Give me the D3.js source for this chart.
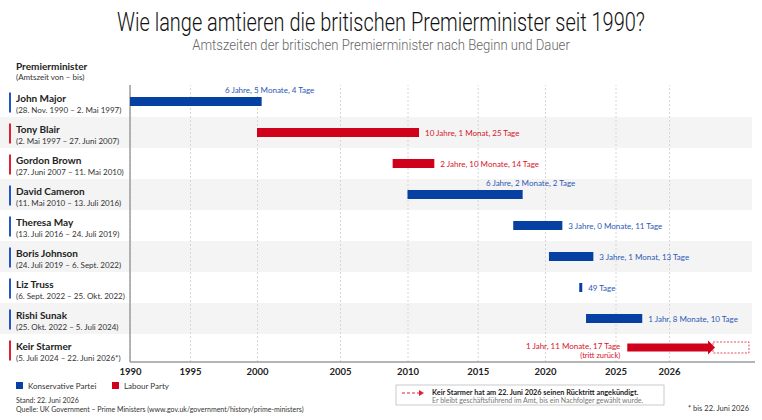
<!DOCTYPE html>
<html>
<head>
<meta charset="utf-8">
<script src="https://cdn.jsdelivr.net/npm/d3@7"></script>
<style>
  body { margin: 0; background: #fff; }
  svg { font-family: Lato, "Open Sans", sans-serif; }
</style>
</head>
<body>
<svg id="chart" width="762" height="420"></svg>
<script>
// values (start / end on the chart's own year axis)
const names = ["John Major", "Tony Blair", "Gordon Brown", "David Cameron", "Theresa May",
  "Boris Johnson", "Liz Truss", "Rishi Sunak", "Keir Starmer"]
const terms = ["(28. Nov. 1990 – 2. Mai 1997)", "(2. Mai 1997 – 27. Juni 2007)",
  "(27. Juni 2007 – 11. Mai 2010)", "(11. Mai 2010 – 13. Juli 2016)",
  "(13. Juli 2016 – 24. Juli 2019)", "(24. Juli 2019 – 6. Sept. 2022)",
  "(6. Sept. 2022 – 25. Okt. 2022)", "(25. Okt. 2022 – 5. Juli 2024)",
  "(5. Juli 2024 – 22. Juni 2026*)"]
const parties = ["Konservative Partei", "Labour Party", "Labour Party", "Konservative Partei",
  "Konservative Partei", "Konservative Partei", "Konservative Partei", "Konservative Partei", "Labour Party"]
const starts = [1990.0, 2000.0, 2008.9, 2010.0, 2017.64, 2020.28, 2022.43, 2022.91, 2025.22]
const ends = [2000.28, 2010.82, 2011.91, 2018.34, 2021.23, 2023.43, 2022.64, 2025.5, 2027.07]
const durations = ["6 Jahre, 5 Monate, 4 Tage", "10 Jahre, 1 Monat, 25 Tage", "2 Jahre, 10 Monate, 14 Tage",
  "6 Jahre, 2 Monate, 2 Tage", "3 Jahre, 0 Monate, 11 Tage", "3 Jahre, 1 Monat, 13 Tage",
  "49 Tage", "1 Jahr, 8 Monate, 10 Tage", "1 Jahr, 11 Monate, 17 Tage"]
const projectedEnd = 2027.86
const tickYears = [1990, 1995, 2000, 2005, 2010, 2015, 2020, 2025, 2026]
const legendItems = ["Konservative Partei", "Labour Party"]

let svg = d3.select("#chart")
let W = +svg.attr("width")

let plotTop = 85, plotBottom = 362

// the axis of the original is not evenly spaced, so a piecewise scale
let x = d3.scaleLinear()
  .domain([1990, 1995, 2000, 2005, 2010, 2015, 2020, 2025, 2026, 2028])
  .range([130, 190, 257, 340, 407.5, 477.7, 545, 615.5, 669, 755])

let y = d3.scaleBand().domain(names).range([86, 365])

let barColor = d3.scaleOrdinal().domain(legendItems).range(["#0640a3", "#d0021b"])
let markColor = d3.scaleOrdinal().domain(legendItems).range(["#2456c6", "#e0202f"])
let textColor = d3.scaleOrdinal().domain(legendItems).range(["#2b58b5", "#d7132a"])

let rows = names.map((n, i) => ({
  name: n, term: terms[i], party: parties[i], start: starts[i], end: ends[i], dur: durations[i], i: i
}))

// title: the original uses a condensed face, so squeeze horizontally
const squeeze = (sel, width) => {
  let w = sel.node().getComputedTextLength()
  sel.attr("transform", "translate(" + W / 2 + "," + sel.attr("data-y") + ") scale(" + (width / w) + ",1)")
}

svg.append("text")
  .attr("data-y", 31)
  .attr("text-anchor", "middle")
  .attr("font-family", "Roboto, sans-serif")
  .attr("font-weight", 300)
  .attr("font-size", 26)
  .attr("fill", "#111")
  .text("Wie lange amtieren die britischen Premierminister seit 1990?")
  .call(squeeze, 528)

svg.append("text")
  .attr("data-y", 50)
  .attr("text-anchor", "middle")
  .attr("font-family", "Roboto, sans-serif")
  .attr("font-weight", 300)
  .attr("font-size", 14)
  .attr("fill", "#666")
  .text("Amtszeiten der britischen Premierminister nach Beginn und Dauer")
  .call(squeeze, 378)

// striped rows
svg.selectAll(".stripe")
  .data(rows.filter(d => d.i % 2 == 1))
  .enter().append("rect")
  .attr("class", "stripe")
  .attr("x", 0).attr("width", 752)
  .attr("y", d => y(d.name))
  .attr("height", y.bandwidth())
  .attr("fill", "#f4f4f4")

// grid
svg.append("g")
  .attr("transform", "translate(0," + plotBottom + ")")
  .call(d3.axisBottom(x).tickValues(tickYears).tickSize(-(plotBottom - plotTop)).tickFormat(""))
  .call(g => g.select(".domain").remove())
  .call(g => g.selectAll("line").attr("stroke", "#d6d6d6").attr("stroke-dasharray", "2,2"))

// axis lines
svg.append("line").attr("x1", x(1990)).attr("x2", x(1990)).attr("y1", plotTop).attr("y2", plotBottom)
  .attr("stroke", "#9c9c9c").attr("stroke-width", 1.5)
svg.append("line").attr("x1", x(1990)).attr("x2", x(2028)).attr("y1", plotBottom).attr("y2", plotBottom)
  .attr("stroke", "#9c9c9c").attr("stroke-width", 1.5)

svg.append("g")
  .attr("transform", "translate(0," + plotBottom + ")")
  .call(d3.axisBottom(x).tickValues(tickYears).tickSize(0).tickPadding(6).tickFormat(d3.format("d")))
  .call(g => g.select(".domain").remove())
  .call(g => g.selectAll("text")
    .attr("font-family", "Lato, sans-serif")
    .attr("font-weight", "bold")
    .attr("font-size", 9.5)
    .attr("fill", "#222"))

// left labels
svg.append("text").attr("x", 16).attr("y", 70)
  .attr("font-weight", "bold").attr("font-size", 10).attr("fill", "#222")
  .text("Premierminister")
svg.append("text").attr("x", 16).attr("y", 80)
  .attr("font-size", 8).attr("fill", "#333")
  .text("(Amtszeit von – bis)")

let lab = svg.append("g")
let cy = d => y(d.name) + y.bandwidth() / 2

lab.selectAll(".mark").data(rows).enter().append("rect")
  .attr("x", 9).attr("width", 2)
  .attr("y", d => cy(d) - 9).attr("height", 20)
  .attr("fill", d => markColor(d.party))

lab.selectAll(".nm").data(rows).enter().append("text")
  .attr("x", 16).attr("y", d => cy(d) + 0.5)
  .attr("font-weight", "bold").attr("font-size", 10).attr("fill", "#222")
  .text(d => d.name)

lab.selectAll(".tm").data(rows).enter().append("text")
  .attr("x", 16).attr("y", d => cy(d) + 11)
  .attr("font-size", 8).attr("fill", "#333")
  .text(d => d.term)

// bars
let bh = 9
let normal = rows.filter(d => d.name != "Keir Starmer")
let last = rows.find(d => d.name == "Keir Starmer")

svg.selectAll(".bar").data(normal).enter().append("rect")
  .attr("x", d => x(d.start))
  .attr("width", d => Math.max(3, x(d.end) - x(d.start)))
  .attr("y", d => cy(d) - bh / 2)
  .attr("height", bh)
  .attr("fill", d => barColor(d.party))

let above = ["John Major", "David Cameron"]
svg.selectAll(".dur").data(normal).enter().append("text")
  .attr("x", d => above.includes(d.name) ? x(d.end) + 8 : x(d.end) + 6)
  .attr("y", d => above.includes(d.name) ? cy(d) - bh / 2 - 4 : cy(d) + 3)
  .attr("text-anchor", d => above.includes(d.name) ? "middle" : "start")
  .attr("font-size", 8)
  .attr("fill", d => textColor(d.party))
  .text(d => d.dur)

// Starmer: arrow + dashed projection
let sx0 = x(last.start), sx1 = x(last.end), sy = cy(last) - 2
svg.append("path")
  .attr("d", "M" + sx0 + "," + (sy - 4) + "H" + (sx1 - 7) + "V" + (sy - 7) + "L" + sx1 + "," + sy +
    "L" + (sx1 - 7) + "," + (sy + 7) + "V" + (sy + 4) + "H" + sx0 + "Z")
  .attr("fill", barColor(last.party))
svg.append("rect")
  .attr("x", sx1 - 2).attr("width", x(projectedEnd) - sx1 + 2)
  .attr("y", sy - 5.5).attr("height", 11)
  .attr("fill", "none").attr("stroke", markColor(last.party))
  .attr("stroke-width", 0.8).attr("stroke-dasharray", "2,1.5")
svg.append("text")
  .attr("x", sx0 - 7).attr("y", sy + 1)
  .attr("text-anchor", "end").attr("font-size", 8)
  .attr("fill", textColor(last.party))
  .text(last.dur)
svg.append("text")
  .attr("x", sx0 - 7).attr("y", sy + 10)
  .attr("text-anchor", "end").attr("font-size", 7.5)
  .attr("fill", textColor(last.party))
  .text("(tritt zurück)")

// legend
let lg = svg.selectAll(".lg").data(legendItems).enter().append("g")
  .attr("transform", (d, i) => "translate(" + (16 + i * 96) + ",382)")
lg.append("rect").attr("width", 7).attr("height", 7).attr("fill", d => barColor(d))
lg.append("text").attr("x", 12).attr("y", 6.5).attr("font-size", 8).attr("fill", "#333").text(d => d)

// footer
svg.append("text").attr("x", 16).attr("y", 403).attr("font-size", 7).attr("fill", "#333")
  .text("Stand: 22. Juni 2026")
svg.append("text").attr("x", 16).attr("y", 412).attr("font-size", 7).attr("fill", "#333")
  .text("Quelle: UK Government – Prime Ministers (www.gov.uk/government/history/prime-ministers)")

// note box
let nb = svg.append("g").attr("transform", "translate(396,385)")
nb.append("rect").attr("width", 268).attr("height", 20)
  .attr("fill", "#fff").attr("stroke", "#bdbdbd").attr("stroke-width", 0.8)
nb.append("line").attr("x1", 6).attr("x2", 24).attr("y1", 8).attr("y2", 8)
  .attr("stroke", "#e0202f").attr("stroke-width", 1).attr("stroke-dasharray", "3,2")
nb.append("path").attr("d", "M23,5L28,8L23,11Z").attr("fill", "#e0202f")
nb.append("text").attr("x", 36).attr("y", 10).attr("font-size", 7.3)
  .attr("font-weight", "bold").attr("fill", "#222")
  .text("Keir Starmer hat am 22. Juni 2026 seinen Rücktritt angekündigt.")
nb.append("text").attr("x", 36).attr("y", 17.5).attr("font-size", 7).attr("fill", "#777")
  .text("Er bleibt geschäftsführend im Amt, bis ein Nachfolger gewählt wurde.")

svg.append("text").attr("x", 749).attr("y", 411).attr("text-anchor", "end")
  .attr("font-size", 7.5).attr("fill", "#333")
  .text("* bis 22. Juni 2026")
</script>
</body>
</html>
